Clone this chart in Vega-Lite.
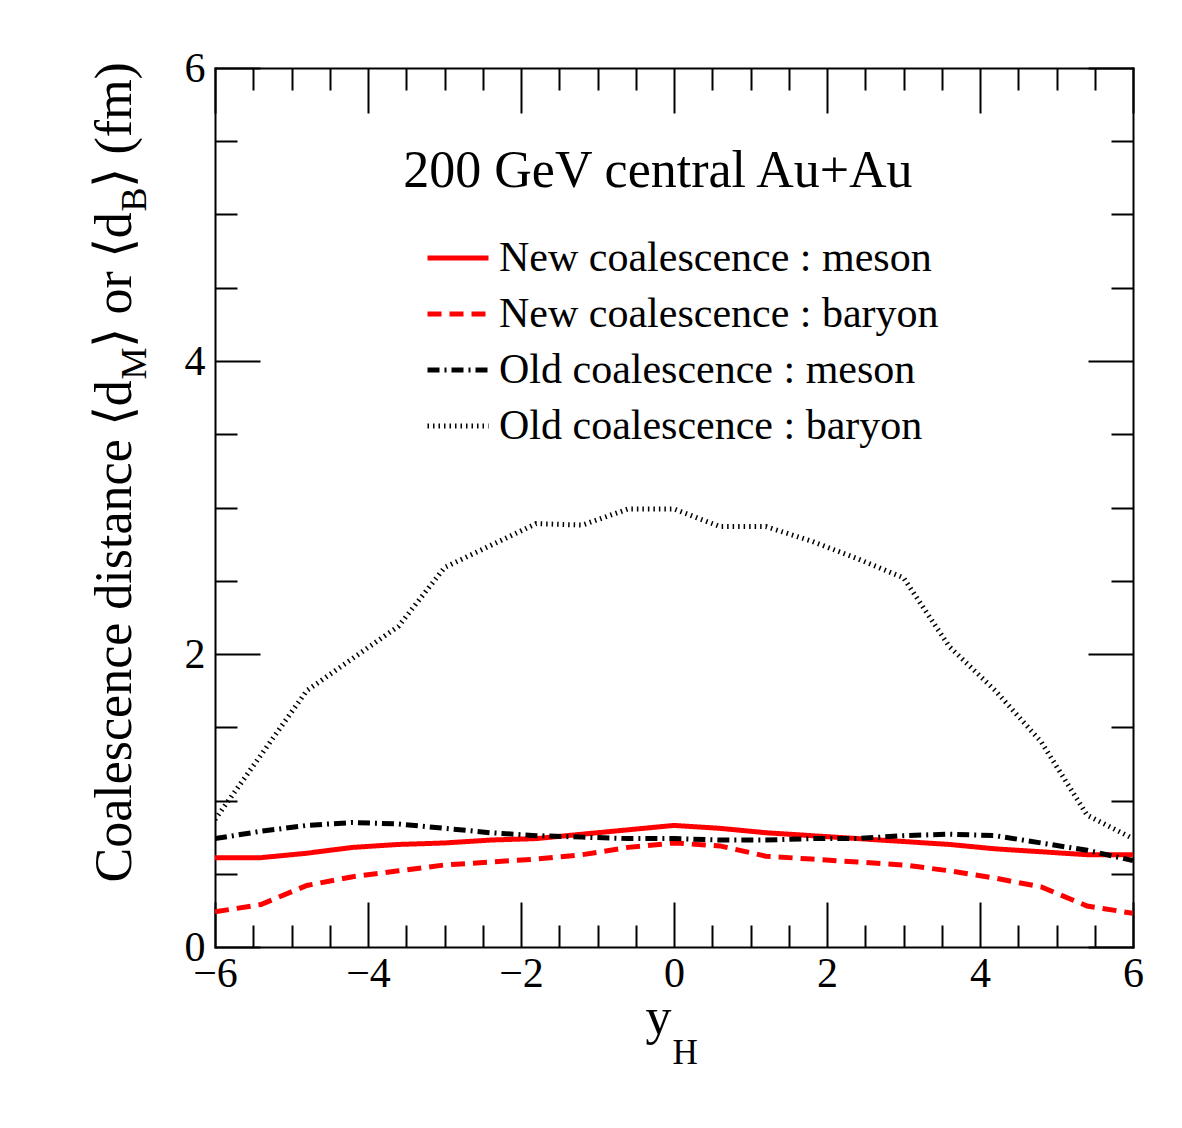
{
  "$schema": "https://vega.github.io/schema/vega-lite/v6.json",
  "width": 918,
  "height": 879,
  "autosize": {"type": "none"},
  "padding": {"left": 215, "top": 68, "right": 49, "bottom": 181},
  "background": "white",
  "config": {
    "view": {"stroke": null},
    "font": "Liberation Serif",
    "axis": {
      "grid": false,
      "domainColor": "black",
      "domainWidth": 2,
      "domainCap": "square",
      "tickColor": "black",
      "tickWidth": 2,
      "labelFont": "Liberation Serif",
      "labelFontSize": 42,
      "labelColor": "black",
      "labelFlush": false,
      "labelOverlap": false,
      "labelBound": false,
      "titleFont": "Liberation Serif",
      "titleColor": "black",
      "titleFontWeight": "normal",
      "titleLimit": 3000
    },
    "legend": {
      "orient": "none",
      "legendX": 210,
      "legendY": 165,
      "padding": 0,
      "symbolType": "stroke",
      "symbolSize": 3721,
      "labelFont": "Liberation Serif",
      "labelFontSize": 42,
      "labelColor": "black",
      "labelOffset": 8,
      "labelLimit": 2000,
      "clipHeight": 50,
      "rowPadding": 6,
      "title": null
    }
  },
  "datasets": {
    "curves": [
      {"series": "New coalescence : meson", "yH": -6.0, "d": 0.61},
      {"series": "New coalescence : meson", "yH": -5.4, "d": 0.61},
      {"series": "New coalescence : meson", "yH": -4.8, "d": 0.64},
      {"series": "New coalescence : meson", "yH": -4.2, "d": 0.68},
      {"series": "New coalescence : meson", "yH": -3.6, "d": 0.70},
      {"series": "New coalescence : meson", "yH": -3.0, "d": 0.71},
      {"series": "New coalescence : meson", "yH": -2.4, "d": 0.73},
      {"series": "New coalescence : meson", "yH": -1.8, "d": 0.74},
      {"series": "New coalescence : meson", "yH": -1.2, "d": 0.77},
      {"series": "New coalescence : meson", "yH": -0.6, "d": 0.80},
      {"series": "New coalescence : meson", "yH": 0.0, "d": 0.83},
      {"series": "New coalescence : meson", "yH": 0.6, "d": 0.81},
      {"series": "New coalescence : meson", "yH": 1.2, "d": 0.78},
      {"series": "New coalescence : meson", "yH": 1.8, "d": 0.76},
      {"series": "New coalescence : meson", "yH": 2.4, "d": 0.74},
      {"series": "New coalescence : meson", "yH": 3.0, "d": 0.72},
      {"series": "New coalescence : meson", "yH": 3.6, "d": 0.70},
      {"series": "New coalescence : meson", "yH": 4.2, "d": 0.67},
      {"series": "New coalescence : meson", "yH": 4.8, "d": 0.65},
      {"series": "New coalescence : meson", "yH": 5.4, "d": 0.63},
      {"series": "New coalescence : meson", "yH": 6.0, "d": 0.63},
      {"series": "New coalescence : baryon", "yH": -6.0, "d": 0.24},
      {"series": "New coalescence : baryon", "yH": -5.4, "d": 0.29},
      {"series": "New coalescence : baryon", "yH": -4.8, "d": 0.42},
      {"series": "New coalescence : baryon", "yH": -4.2, "d": 0.48},
      {"series": "New coalescence : baryon", "yH": -3.6, "d": 0.52},
      {"series": "New coalescence : baryon", "yH": -3.0, "d": 0.56},
      {"series": "New coalescence : baryon", "yH": -2.4, "d": 0.58},
      {"series": "New coalescence : baryon", "yH": -1.8, "d": 0.60},
      {"series": "New coalescence : baryon", "yH": -1.2, "d": 0.63},
      {"series": "New coalescence : baryon", "yH": -0.6, "d": 0.68},
      {"series": "New coalescence : baryon", "yH": 0.0, "d": 0.71},
      {"series": "New coalescence : baryon", "yH": 0.6, "d": 0.69},
      {"series": "New coalescence : baryon", "yH": 1.2, "d": 0.62},
      {"series": "New coalescence : baryon", "yH": 1.8, "d": 0.60},
      {"series": "New coalescence : baryon", "yH": 2.4, "d": 0.58},
      {"series": "New coalescence : baryon", "yH": 3.0, "d": 0.56},
      {"series": "New coalescence : baryon", "yH": 3.6, "d": 0.52},
      {"series": "New coalescence : baryon", "yH": 4.2, "d": 0.47},
      {"series": "New coalescence : baryon", "yH": 4.8, "d": 0.41},
      {"series": "New coalescence : baryon", "yH": 5.4, "d": 0.28},
      {"series": "New coalescence : baryon", "yH": 6.0, "d": 0.23},
      {"series": "Old coalescence : meson", "yH": -6.0, "d": 0.74},
      {"series": "Old coalescence : meson", "yH": -5.4, "d": 0.79},
      {"series": "Old coalescence : meson", "yH": -4.8, "d": 0.83},
      {"series": "Old coalescence : meson", "yH": -4.2, "d": 0.85},
      {"series": "Old coalescence : meson", "yH": -3.6, "d": 0.84},
      {"series": "Old coalescence : meson", "yH": -3.0, "d": 0.81},
      {"series": "Old coalescence : meson", "yH": -2.4, "d": 0.78},
      {"series": "Old coalescence : meson", "yH": -1.8, "d": 0.76},
      {"series": "Old coalescence : meson", "yH": -1.2, "d": 0.75},
      {"series": "Old coalescence : meson", "yH": -0.6, "d": 0.74},
      {"series": "Old coalescence : meson", "yH": 0.0, "d": 0.74},
      {"series": "Old coalescence : meson", "yH": 0.6, "d": 0.73},
      {"series": "Old coalescence : meson", "yH": 1.2, "d": 0.73},
      {"series": "Old coalescence : meson", "yH": 1.8, "d": 0.74},
      {"series": "Old coalescence : meson", "yH": 2.4, "d": 0.74},
      {"series": "Old coalescence : meson", "yH": 3.0, "d": 0.76},
      {"series": "Old coalescence : meson", "yH": 3.6, "d": 0.77},
      {"series": "Old coalescence : meson", "yH": 4.2, "d": 0.76},
      {"series": "Old coalescence : meson", "yH": 4.8, "d": 0.71},
      {"series": "Old coalescence : meson", "yH": 5.4, "d": 0.66},
      {"series": "Old coalescence : meson", "yH": 6.0, "d": 0.59},
      {"series": "Old coalescence : baryon", "yH": -6.0, "d": 0.87},
      {"series": "Old coalescence : baryon", "yH": -5.4, "d": 1.31},
      {"series": "Old coalescence : baryon", "yH": -4.8, "d": 1.75},
      {"series": "Old coalescence : baryon", "yH": -4.2, "d": 1.97},
      {"series": "Old coalescence : baryon", "yH": -3.6, "d": 2.19},
      {"series": "Old coalescence : baryon", "yH": -3.0, "d": 2.59},
      {"series": "Old coalescence : baryon", "yH": -2.4, "d": 2.74},
      {"series": "Old coalescence : baryon", "yH": -1.8, "d": 2.89},
      {"series": "Old coalescence : baryon", "yH": -1.2, "d": 2.88},
      {"series": "Old coalescence : baryon", "yH": -0.6, "d": 2.99},
      {"series": "Old coalescence : baryon", "yH": 0.0, "d": 2.99},
      {"series": "Old coalescence : baryon", "yH": 0.6, "d": 2.87},
      {"series": "Old coalescence : baryon", "yH": 1.2, "d": 2.87},
      {"series": "Old coalescence : baryon", "yH": 1.8, "d": 2.77},
      {"series": "Old coalescence : baryon", "yH": 2.4, "d": 2.65},
      {"series": "Old coalescence : baryon", "yH": 3.0, "d": 2.52},
      {"series": "Old coalescence : baryon", "yH": 3.6, "d": 2.05},
      {"series": "Old coalescence : baryon", "yH": 4.2, "d": 1.75},
      {"series": "Old coalescence : baryon", "yH": 4.8, "d": 1.40},
      {"series": "Old coalescence : baryon", "yH": 5.4, "d": 0.90},
      {"series": "Old coalescence : baryon", "yH": 6.0, "d": 0.74}
    ],
    "note": [
      {"label": "200 GeV central Au+Au", "xp": -0.21, "yp": 5.19}
    ]
  },
  "layer": [
    {
      "data": {"name": "curves"},
      "mark": {"type": "line", "strokeCap": "butt", "clip": true},
      "encoding": {
        "x": {
          "field": "yH", "type": "quantitative",
          "scale": {"domain": [-6, 6], "nice": false, "zero": false},
          "axis": {
            "orient": "bottom",
            "values": [-6, -4, -2, 0, 2, 4, 6],
            "tickSize": -45,
            "labelPadding": 51,
            "domain": true,
            "title": "y",
            "titleFontSize": 52,
            "titleX": 430,
            "titleY": 86,
            "titleAlign": "left",
            "titleBaseline": "alphabetic",
            "titleAngle": 0
          }
        },
        "y": {
          "field": "d", "type": "quantitative",
          "scale": {"domain": [0, 6], "nice": false, "zero": true},
          "axis": {
            "orient": "left",
            "values": [0, 2, 4, 6],
            "tickSize": -45,
            "labelPadding": 55,
            "domain": true,
            "title": "Coalescence distance ⟨d",
            "titleFontSize": 52,
            "titleX": -85,
            "titleY": 814,
            "titleAlign": "left",
            "titleBaseline": "alphabetic",
            "titleAngle": 270
          }
        },
        "color": {
          "field": "series", "type": "nominal",
          "scale": {
            "domain": ["New coalescence : meson", "New coalescence : baryon", "Old coalescence : meson", "Old coalescence : baryon"],
            "range": ["#ff0000", "#ff0000", "#000000", "#000000"]
          },
          "legend": {"orient": "none", "legendX": 210, "legendY": 165, "title": null}
        },
        "strokeDash": {
          "field": "series", "type": "nominal",
          "scale": {
            "domain": ["New coalescence : meson", "New coalescence : baryon", "Old coalescence : meson", "Old coalescence : baryon"],
            "range": [[1, 0], [14, 8], [12, 5, 2, 5], [1.5, 4]]
          },
          "legend": {"orient": "none", "legendX": 210, "legendY": 165, "title": null}
        },
        "strokeWidth": {
          "field": "series", "type": "nominal",
          "scale": {
            "domain": ["New coalescence : meson", "New coalescence : baryon", "Old coalescence : meson", "Old coalescence : baryon"],
            "range": [5, 5, 1, 1.2]
          },
          "legend": {"orient": "none", "legendX": 210, "legendY": 165, "title": null}
        }
      }
    },
    {
      "data": {"name": "curves"},
      "mark": {"type": "point", "opacity": 0},
      "encoding": {
        "x": {
          "field": "yH", "type": "quantitative",
          "axis": {
            "orient": "bottom",
            "values": [-5.5, -5, -4.5, -3.5, -3, -2.5, -1.5, -1, -0.5, 0.5, 1, 1.5, 2.5, 3, 3.5, 4.5, 5, 5.5],
            "tickSize": -22,
            "labels": false,
            "domain": false,
            "title": "H",
            "titleFontSize": 35,
            "titleX": 457,
            "titleY": 116,
            "titleAlign": "left",
            "titleBaseline": "alphabetic",
            "titleAngle": 0
          }
        },
        "y": {
          "field": "d", "type": "quantitative",
          "axis": {
            "orient": "left",
            "values": [0.5, 1, 1.5, 2.5, 3, 3.5, 4.5, 5, 5.5],
            "tickSize": -22,
            "labels": false,
            "domain": false,
            "title": "M",
            "titleFontSize": 36,
            "titleX": -70,
            "titleY": 311,
            "titleAlign": "left",
            "titleBaseline": "alphabetic",
            "titleAngle": 270
          }
        }
      }
    },
    {
      "data": {"name": "curves"},
      "mark": {"type": "point", "opacity": 0},
      "encoding": {
        "x": {
          "field": "yH", "type": "quantitative",
          "axis": {
            "orient": "top",
            "values": [-6, -4, -2, 0, 2, 4, 6],
            "tickSize": -45,
            "labels": false,
            "domain": true,
            "title": "⟩ (fm)",
            "titleFontSize": 52,
            "titleX": -85,
            "titleY": 119,
            "titleAlign": "left",
            "titleBaseline": "alphabetic",
            "titleAngle": 270
          }
        },
        "y": {
          "field": "d", "type": "quantitative",
          "axis": {
            "orient": "right",
            "values": [0, 2, 4, 6],
            "tickSize": -45,
            "labels": false,
            "domain": true,
            "title": "⟩ or ⟨d",
            "titleFontSize": 52,
            "titleX": -1003,
            "titleY": 279,
            "titleAlign": "left",
            "titleBaseline": "alphabetic",
            "titleAngle": 270
          }
        }
      }
    },
    {
      "data": {"name": "curves"},
      "mark": {"type": "point", "opacity": 0},
      "encoding": {
        "x": {
          "field": "yH", "type": "quantitative",
          "axis": {
            "orient": "top",
            "values": [-5.5, -5, -4.5, -3.5, -3, -2.5, -1.5, -1, -0.5, 0.5, 1, 1.5, 2.5, 3, 3.5, 4.5, 5, 5.5],
            "tickSize": -22,
            "labels": false,
            "domain": false,
            "title": null
          }
        },
        "y": {
          "field": "d", "type": "quantitative",
          "axis": {
            "orient": "right",
            "values": [0.5, 1, 1.5, 2.5, 3, 3.5, 4.5, 5, 5.5],
            "tickSize": -22,
            "labels": false,
            "domain": false,
            "title": "B",
            "titleFontSize": 36,
            "titleX": -988,
            "titleY": 143,
            "titleAlign": "left",
            "titleBaseline": "alphabetic",
            "titleAngle": 270
          }
        }
      }
    },
    {
      "data": {"name": "note"},
      "mark": {"type": "text", "font": "Liberation Serif", "fontSize": 52, "align": "center", "baseline": "alphabetic", "color": "black"},
      "encoding": {
        "x": {"field": "xp", "type": "quantitative", "axis": null},
        "y": {"field": "yp", "type": "quantitative", "axis": null},
        "text": {"field": "label"}
      }
    }
  ],
  "resolve": {"axis": {"x": "independent", "y": "independent"}}
}
